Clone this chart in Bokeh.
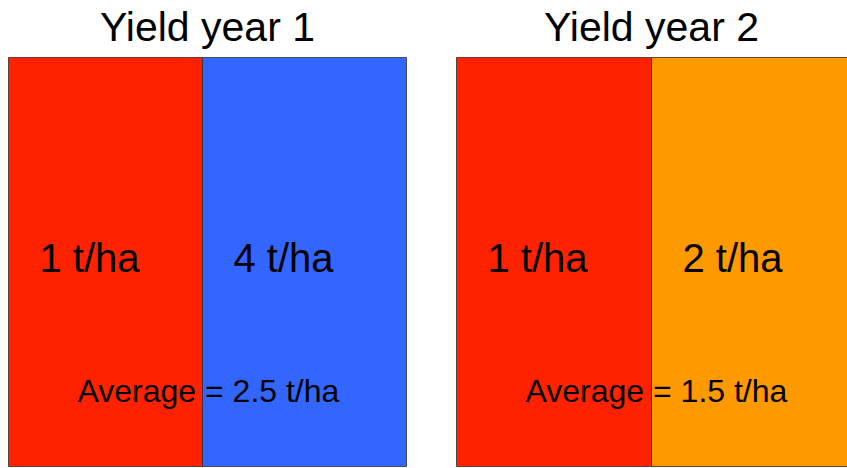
from bokeh.plotting import figure
from bokeh.models import Range1d, ColumnDataSource
from bokeh.core.properties import value
from bokeh.embed import file_html
from bokeh.resources import INLINE
import numpy as np

# ---- data ----
panel_titles = ["Yield year 1", "Yield year 2"]
yields_year1 = [1, 4]          # t/ha, field A and field B
yields_year2 = [1, 2]
colors_year1 = ["#FF2200", "#3366FF"]
colors_year2 = ["#FF2200", "#FF9900"]
unit = "t/ha"

# ---- layout (canvas pixels) ----
W, H = 847, 468
panel_lefts = [8, 456]
field_widths = [[194, 204], [195, 198]]
rect_bottom, rect_top = 2, 411
title_y = 442
value_y = 211
avg_y = 78
value_pad = 31
avg_pad = 69
FONT = "Liberation Sans"

p = figure(width=W, height=H, output_backend="svg", toolbar_location=None,
           x_range=Range1d(0, W), y_range=Range1d(0, H), min_border=0)
p.axis.visible = False
p.grid.visible = False
p.outline_line_color = None
p.background_fill_color = "white"
p.border_fill_color = "white"

all_yields = [yields_year1, yields_year2]
all_colors = [colors_year1, colors_year2]
title_centers = [207, 651]

for i in range(2):
    ys = all_yields[i]
    cols = all_colors[i]
    lefts = []
    rights = []
    x = panel_lefts[i]
    for w in field_widths[i]:
        lefts.append(x)
        rights.append(x + w)
        x += w
    src = ColumnDataSource(dict(left=lefts, right=rights,
                                bottom=[rect_bottom] * len(ys), top=[rect_top] * len(ys),
                                color=cols,
                                label=[f"{v:g} {unit}" for v in ys],
                                lx=[l + value_pad for l in lefts],
                                ly=[value_y] * len(ys)))
    p.quad(left="left", right="right", bottom="bottom", top="top", source=src,
           fill_color="color", line_color="#3a2a2a", line_alpha=0.8, line_width=1)
    p.text(x="lx", y="ly", text="label", source=src, text_font=value(FONT),
           text_font_size="40px", text_color="black", text_align="left",
           text_baseline="alphabetic")
    p.text(x=[title_centers[i]], y=[title_y], text=[panel_titles[i]], text_font=value(FONT),
           text_font_size="41px", text_color="black", text_align="center",
           text_baseline="alphabetic")
    avg = np.mean(ys)
    p.text(x=[lefts[0] + avg_pad], y=[avg_y], text=[f"Average = {avg:g} {unit}"],
           text_font=value(FONT), text_font_size="32px", text_color="black",
           text_align="left", text_baseline="alphabetic")

open("out.html", "w").write(file_html(p, INLINE))
